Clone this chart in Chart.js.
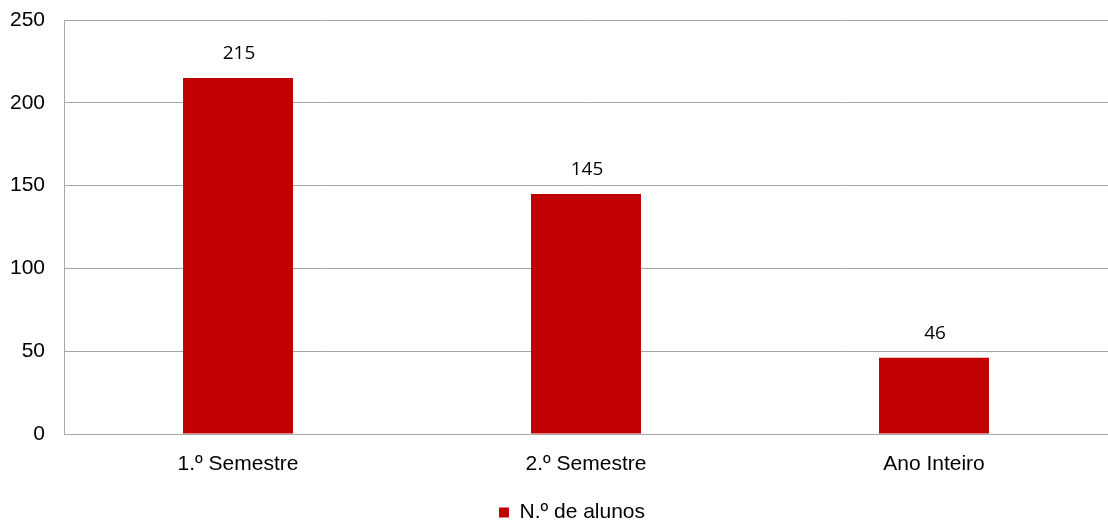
<!DOCTYPE html>
<html>
<head>
<meta charset="utf-8">
<script src="https://cdn.jsdelivr.net/npm/chart.js@4"></script>
<style>
  html, body { margin: 0; padding: 0; background: #fff; }
  #wrap { width: 1108px; height: 520px; }
</style>
</head>
<body>
<div id="wrap"><canvas id="chart"></canvas></div>
<script>
const categories = ['1.º Semestre', '2.º Semestre', 'Ano Inteiro'];
const alunos = [215, 145, 46];
const yTicks = [0, 50, 100, 150, 200, 250];

// labels over the bars
const barLabels = {
  id: 'barLabels',
  afterDatasetsDraw(chart) {
    const ctx = chart.ctx;
    const meta = chart.getDatasetMeta(0);
    ctx.save();
    ctx.font = '19px "Open Sans"';
    ctx.fillStyle = '#000';
    ctx.textAlign = 'center';
    ctx.textBaseline = 'middle';
    meta.data.forEach((bar, i) => {
      ctx.fillText(String(alunos[i]), bar.x + 1, bar.y - 24);
    });
    ctx.restore();
  }
};

// legend sits a bit lower and right of centre in the original
const moveLegend = {
  id: 'moveLegend',
  afterLayout(chart) {
    const lg = chart.legend;
    lg.left += 18; lg.right += 18;
    lg.top += 13; lg.bottom += 13;
  }
};

new Chart(document.getElementById('chart'), {
  type: 'bar',
  data: {
    labels: categories,
    datasets: [{
      label: 'N.º de alunos',
      data: alunos,
      backgroundColor: '#C00000',
      categoryPercentage: 1,
      barPercentage: 0.316
    }]
  },
  options: {
    responsive: true,
    maintainAspectRatio: false,
    animation: false,
    layout: { padding: { top: 20, right: 0, left: 0, bottom: 0 } },
    plugins: {
      tooltip: { enabled: false },
      legend: {
        position: 'bottom',
        labels: {
          font: { family: 'Liberation Sans', size: 21 },
          color: '#000',
          boxWidth: 10,
          boxHeight: 10,
          padding: 10
        }
      }
    },
    scales: {
      x: {
        grid: { display: false },
        border: { color: '#A6A6A6', width: 1 },
        ticks: {
          font: { family: 'Liberation Sans', size: 21 },
          color: '#000',
          padding: 10
        },
        afterFit(scale) {
          scale.height = 45;
          scale.paddingLeft = 0; scale.paddingRight = 0;
        }
      },
      y: {
        min: 0,
        max: 250,
        afterBuildTicks(scale) { scale.ticks = yTicks.map(v => ({ value: v })); },
        grid: { color: '#A6A6A6', drawTicks: false },
        border: { color: '#A6A6A6', width: 1 },
        ticks: {
          font: { family: 'Liberation Sans', size: 21 },
          color: '#000',
          padding: 19
        },
        afterFit(scale) {
          scale.width = 64;
          scale.paddingTop = 0; scale.paddingBottom = 0;
        }
      }
    }
  },
  plugins: [barLabels, moveLegend]
});
</script>
</body>
</html>
